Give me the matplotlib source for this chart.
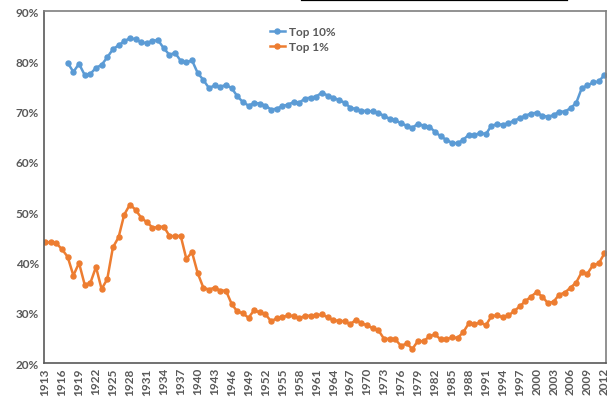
import matplotlib
matplotlib.use("Agg")
import matplotlib.pyplot as plt
from matplotlib.lines import Line2D
from matplotlib.ticker import FixedLocator, FuncFormatter
import numpy as np

years = np.arange(1913, 2013)

# top 10% share, series starts in 1917
top10_years = np.arange(1917, 2013)
top10 = [79.7, 77.9, 79.5, 77.3, 77.5, 78.7, 79.3, 80.8, 82.4, 83.2,
         84.0, 84.6, 84.4, 83.8, 83.6, 84.1, 84.2, 82.6, 81.3, 81.7,
         80.1, 79.8, 80.2, 77.7, 76.3, 74.7, 75.2, 74.95, 75.3, 74.7,
         73.1, 71.9, 71.2, 71.7, 71.6, 71.2, 70.4, 70.6, 71.1, 71.4,
         71.9, 71.8, 72.6, 72.8, 73.0, 73.8, 73.2, 72.8, 72.3, 71.8,
         70.8, 70.5, 70.2, 70.1, 70.05, 69.8, 69.1, 68.6, 68.25, 67.7,
         67.2, 66.8, 67.6, 67.2, 67.0, 66.0, 65.1, 64.4, 63.8, 63.7,
         64.4, 65.4, 65.3, 65.8, 65.5, 67.2, 67.5, 67.4, 67.7, 68.2,
         68.7, 69.2, 69.6, 69.8, 69.2, 69.0, 69.3, 70.0, 70.0, 70.7,
         71.7, 74.7, 75.2, 75.8, 76.0, 77.3]

top1 = [44.0, 44.0, 43.8, 42.6, 41.1, 37.4, 39.9, 35.6, 35.9, 39.1,
        34.7, 36.7, 43.0, 45.0, 49.5, 51.5, 50.5, 48.9, 48.0, 46.95,
        47.0, 47.15, 45.3, 45.2, 45.3, 40.7, 42.05, 37.9, 35.0, 34.6,
        35.0, 34.4, 34.4, 31.8, 30.25, 29.9, 29.0, 30.5, 30.05, 29.7,
        28.3, 28.9, 29.1, 29.5, 29.3, 28.9, 29.4, 29.4, 29.5, 29.65,
        29.1, 28.5, 28.4, 28.3, 27.7, 28.6, 27.9, 27.5, 26.9, 26.5,
        24.8, 24.8, 24.7, 23.4, 23.9, 22.8, 24.4, 24.3, 25.3, 25.7,
        24.7, 24.75, 25.1, 25.0, 26.1, 27.9, 27.7, 28.1, 27.5, 29.3,
        29.5, 29.1, 29.45, 30.3, 31.25, 32.3, 33.2, 34.1, 33.2, 31.9,
        32.2, 33.6, 34.0, 35.0, 36.0, 38.1, 37.8, 39.5, 39.8, 41.8]

blue = "#5B9BD5"
orange = "#ED7D31"
grey_txt = "#595959"

plt.rcParams['font.family'] = ['Lato', 'DejaVu Sans']

fig = plt.figure(figsize=(6.11, 4.02), dpi=100)
ax = fig.add_axes([0.072, 0.0945, 0.920, 0.8755])

ax.plot(top10_years, np.array(top10) / 100, '-o', color=blue, lw=1.8,
        ms=3.6, label='Top 10%')
ax.plot(years, np.array(top1) / 100, '-o', color=orange, lw=1.8,
        ms=3.6, label='Top 1%')

ax.set_xlim(1912.8, 2012.3)
ax.set_ylim(0.2, 0.9)
ax.xaxis.set_major_locator(FixedLocator(years[::3]))
ax.yaxis.set_major_locator(FixedLocator(np.arange(0.2, 0.91, 0.1)))
ax.yaxis.set_major_formatter(FuncFormatter(lambda v, p: '%d%%' % round(v * 100)))
ax.tick_params(length=0, colors=grey_txt, labelsize=8.5)
ax.tick_params(axis='x', rotation=90, pad=3)
for lab in ax.get_xticklabels() + ax.get_yticklabels():
    lab.set_fontweight('bold')

for side in ['left', 'bottom', 'top', 'right']:
    ax.spines[side].set_color('#7f7f7f')
    ax.spines[side].set_linewidth(1.2)
ax.spines['left'].set_color('#595959')
ax.spines['bottom'].set_color('#595959')

leg = ax.legend(loc='upper left', bbox_to_anchor=(0.393, 0.972), frameon=False,
                handlelength=1.3, handletextpad=0.3, labelspacing=0.35,
                fontsize=8.5, borderaxespad=0)
for t in leg.get_texts():
    t.set_color(grey_txt)
    t.set_fontweight('bold')

# edge of a cropped title box at the top
fig.add_artist(Line2D([302 / 611, 567 / 611], [0.9975, 0.9975], color='black',
                      lw=1.6, transform=fig.transFigure))

fig.savefig('out.png', dpi=100)
